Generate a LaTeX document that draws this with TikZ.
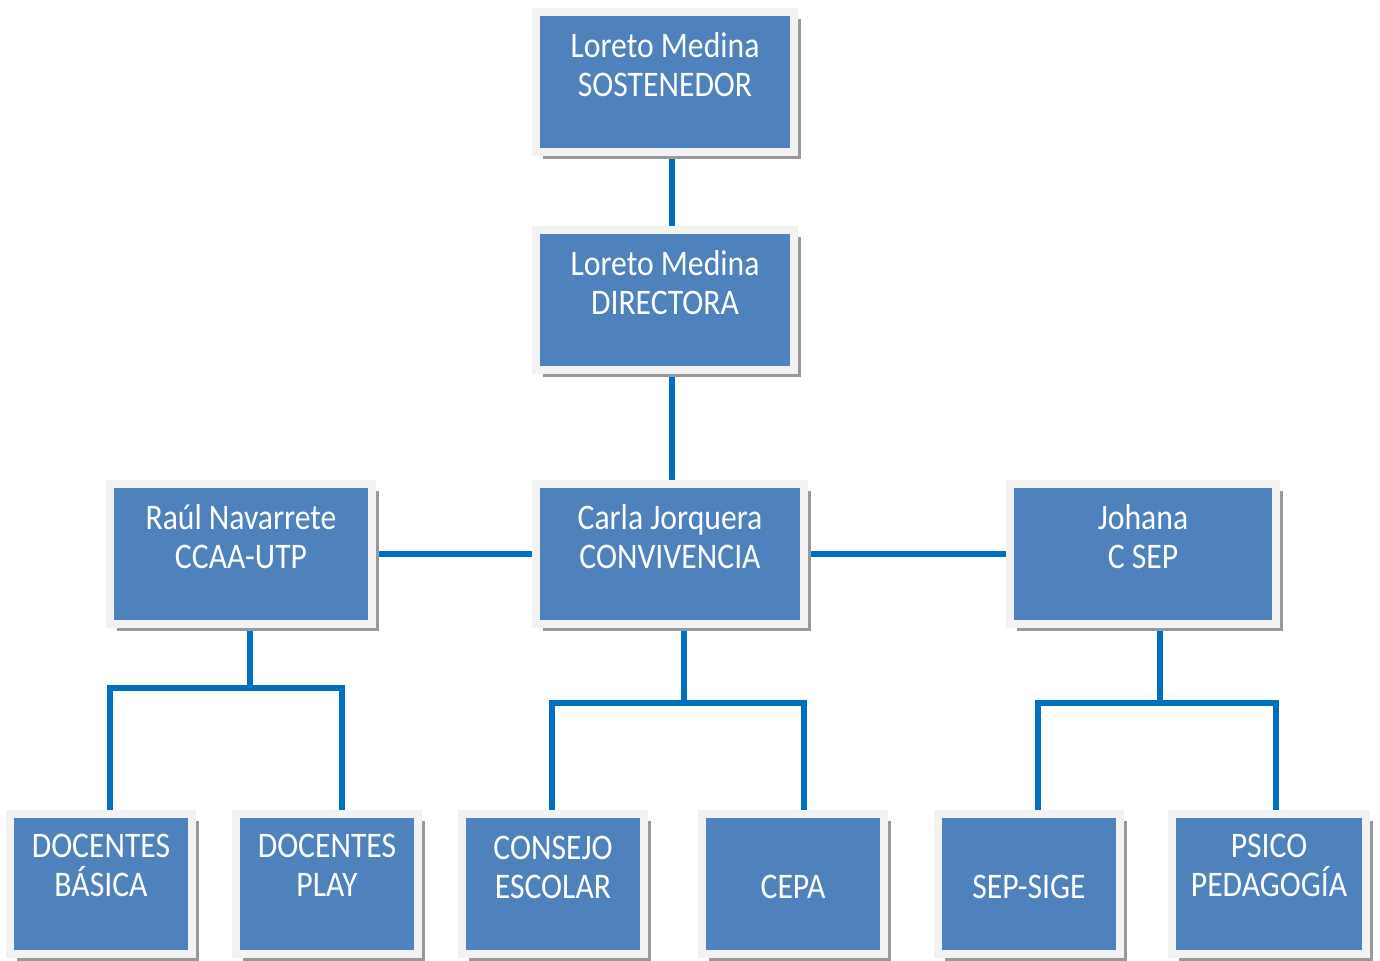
\documentclass[tikz,border=0pt]{standalone}
\usepackage{fontspec}
\setmainfont[FakeStretch=0.88]{Carlito}
\usetikzlibrary{shadows, backgrounds}
\definecolor{boxblue}{HTML}{4F81BD}
\definecolor{boxrim}{HTML}{F2F2F2}
\definecolor{linkblue}{HTML}{0070C0}

\begin{document}
\begin{tikzpicture}[x=0.5pt, y=-0.5pt,
    box/.style={rectangle, fill=boxblue, draw=boxrim, line width=4pt, inner sep=0pt,
      minimum height=70pt, drop shadow={shadow xshift=3.5pt, shadow yshift=-3.5pt, fill=black!40, opacity=1}},
    txt/.style={anchor=north, align=center, inner sep=0pt, text=white,
      font=\fontsize{18}{19.5}\selectfont},
    link/.style={draw=linkblue, line width=3pt, line join=miter}]
        \useasboundingbox (0,0) rectangle (1380,960);

        \node[box, minimum width=129pt] (sost) at (665,82) {};
        \node[box, minimum width=129pt] (dir) at (665,300) {};
        \node[box, minimum width=131pt] (utp) at (241,554) {};
        \node[box, minimum width=134pt] (conv) at (670,554) {};
        \node[box, minimum width=133pt] (sep) at (1143,554) {};
        \node[box, minimum width=91pt] (basica) at (101,884) {};
        \node[box, minimum width=91pt] (play) at (327,884) {};
        \node[box, minimum width=91pt] (consejo) at (553,884) {};
        \node[box, minimum width=91pt] (cepa) at (793,884) {};
        \node[box, minimum width=91pt] (sige) at (1029,884) {};
        \node[box, minimum width=97pt] (psico) at (1269,884) {};

        \node[txt] (sosttxt) at ([yshift=-12pt]sost.north) {Loreto Medina\\SOSTENEDOR};
        \node[txt] (dirtxt) at ([yshift=-12pt]dir.north) {Loreto Medina\\DIRECTORA};
        \node[txt] (utptxt) at ([yshift=-12pt]utp.north) {Raúl Navarrete\\CCAA-UTP};
        \node[txt] (convtxt) at ([yshift=-12pt]conv.north) {Carla Jorquera\\CONVIVENCIA};
        \node[txt] (septxt) at ([yshift=-12pt]sep.north) {Johana\\C SEP};
        \node[txt] (basicatxt) at ([yshift=-12pt]basica.north) {DOCENTES\\BÁSICA};
        \node[txt] (playtxt) at ([yshift=-12pt]play.north) {DOCENTES\\PLAY};
        \node[txt] (consejotxt) at ([yshift=-13pt]consejo.north) {CONSEJO\\ESCOLAR};
        \node[txt] (cepatxt) at ([yshift=-32.5pt]cepa.north) {CEPA};
        \node[txt] (sigetxt) at ([yshift=-32.5pt]sige.north) {SEP-SIGE};
        \node[txt] (psicotxt) at ([yshift=-12pt]psico.north) {PSICO\\PEDAGOGÍA};

        \coordinate (ju) at (250,688);
        \coordinate (jb) at (110,688);
        \coordinate (jp) at (342,688);
        \coordinate (jc) at (684,703);
        \coordinate (jce) at (552,703);
        \coordinate (jcp) at (804,703);
        \coordinate (js) at (1160,703);
        \coordinate (jsg) at (1038,703);
        \coordinate (jps) at (1276,703);

        \begin{scope}[on background layer]
        \fill[white] (0,0) rectangle (1380,960);
        \draw[link] ([xshift=3.5pt]sost.south) -- ([xshift=3.5pt]dir.north);
        \draw[link] ([xshift=3.5pt]dir.south) -- ([xshift=3.5pt]dir.south |- conv.north);
        \draw[link] (utp) -- (conv);
        \draw[link] (conv) -- (sep);
        \draw[link] (utp.south -| ju) -- (ju);
        \draw[link] (basica.north -| jb) -- (jb) -- (jp) -- (play.north -| jp);
        \draw[link] (conv.south -| jc) -- (jc);
        \draw[link] (consejo.north -| jce) -- (jce) -- (jcp) -- (cepa.north -| jcp);
        \draw[link] (sep.south -| js) -- (js);
        \draw[link] (sige.north -| jsg) -- (jsg) -- (jps) -- (psico.north -| jps);
        \end{scope}
      \end{tikzpicture}
\end{document}
